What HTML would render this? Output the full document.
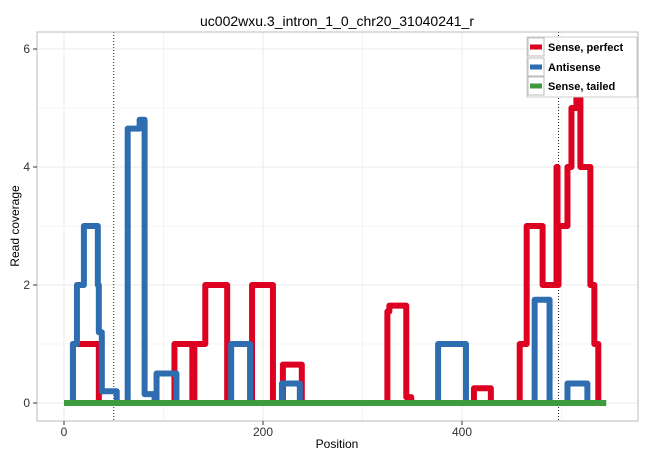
<!DOCTYPE html>
<html><head><meta charset="utf-8">
<style>
body{margin:0;background:#fff;font-family:"Liberation Sans",sans-serif;}
svg{display:block}
</style></head>
<body>
<svg id="chart" width="650" height="460">
<rect x="0" y="0" width="650" height="460" fill="#fff"/>
<g id="grid"></g>
<g id="marks"></g>
<rect x="37" y="32" width="601" height="389" fill="none" stroke="#bbb" stroke-width="1"/>
<g id="axes"></g>
<text x="337" y="26" text-anchor="middle" font-size="14" fill="#000">uc002wxu.3_intron_1_0_chr20_31040241_r</text>
<text x="337" y="448" text-anchor="middle" font-size="12" fill="#000">Position</text>
<text x="19" y="226" text-anchor="middle" font-size="12" fill="#000" transform="rotate(-90 19 226)">Read coverage</text>
<g>
<rect x="527" y="37" width="110" height="60" fill="#fff" stroke="#ccc" stroke-width="1"/>
<g><rect x="528" y="38" width="16" height="18" fill="#fff" stroke="#bbb"/><line x1="530" y1="47" x2="542" y2="47" stroke="#de0020" stroke-width="5"/><text x="548" y="51" font-size="11" font-weight="bold">Sense, perfect</text></g>
<g><rect x="528" y="58" width="16" height="18" fill="#fff" stroke="#bbb"/><line x1="530" y1="67" x2="542" y2="67" stroke="#2e6db0" stroke-width="5"/><text x="548" y="71" font-size="11" font-weight="bold">Antisense</text></g>
<g><rect x="528" y="77" width="16" height="18" fill="#fff" stroke="#bbb"/><line x1="530" y1="86" x2="542" y2="86" stroke="#3d9a3d" stroke-width="5"/><text x="548" y="90" font-size="11" font-weight="bold">Sense, tailed</text></g>
</g>
</svg>
<script>
const xTicks=[0,200,400];
const xMinor=[100,300,500];
const yTicks=[0,2,4,6];
const yMinor=[1,3,5];
const markerPositions=[50,497];
const senseX=[9,9,35,35,111,111,129,129,131,131,142,142,164,164,189,189,210,210,220,220,239,239,325,325,327,327,330,330,344,344,347,347,349,349,412,412,429,429,458,458,465,465,481,481,495,495,496,496,497,497,506,506,510,510,515,515,519,519,529,529,533,533,537,537,539];
const senseY=[0,1,1,0,0,1,1,0,0,1,1,2,2,0,0,2,2,0,0,0.65,0.65,0,0,1.55,1.55,1.65,1.65,1.65,1.65,0.1,0.1,0.1,0.1,0,0,0.25,0.25,0,0,1,1,3,3,2,2,4,4,2,2,3,3,4,4,5,5,5.3,5.3,4,4,2,2,1,1,0,0];
const antiX=[9,9,13,13,20,20,34,34,35,35,38,38,41,41,53,53,54,64,64,76,76,77,81,81,83,83,91,91,93,93,113,113,168,168,187,187,219,219,237,237,376,376,404,404,473,473,488,488,506,506,526,526];
const antiY=[0,1,1,2,2,3,3,2,2,1.2,1.2,0.2,0.2,0.2,0.2,0,0,0,4.65,4.65,4.8,4.8,4.8,0.15,0.15,0.15,0.15,0,0,0.5,0.5,0,0,1,1,0,0,0.33,0.33,0,0,1,1,0,0,1.75,1.75,0,0,0.33,0.33,0];
const tailedX=[0,545];
const tailedY=[0,0];

const NS="http://www.w3.org/2000/svg";
const X0=37,X1=638,Y0=32,Y1=421;
function sx(v){return 64+v*0.995;}
function sy(v){return 403-v*59;}
function mk(tag,attrs,parent){const e=document.createElementNS(NS,tag);for(const k in attrs)e.setAttribute(k,attrs[k]);parent.appendChild(e);return e;}
const grid=document.getElementById('grid'),marks=document.getElementById('marks'),axes=document.getElementById('axes');
xMinor.concat(xTicks).forEach(v=>{const l=mk('line',{x1:sx(v),x2:sx(v),y1:Y0,y2:Y1,stroke:xTicks.includes(v)?'#ebebeb':'#f4f4f4','stroke-width':1},grid);

});
yMinor.concat(yTicks).forEach(v=>{const l=mk('line',{x1:X0,x2:X1,y1:sy(v),y2:sy(v),stroke:yTicks.includes(v)?'#ebebeb':'#f4f4f4','stroke-width':1},grid);

});
xTicks.forEach(v=>{const t=mk('line',{x1:sx(v),x2:sx(v),y1:Y1,y2:Y1+4,stroke:'#333'},axes);


const tx=mk('text',{x:sx(v),y:Y1+15,'text-anchor':'middle','font-size':12,fill:'#333'},axes);tx.textContent=v;

});
yTicks.forEach(v=>{const t=mk('line',{x1:X0-4,x2:X0,y1:sy(v),y2:sy(v),stroke:'#333'},axes);


const tx=mk('text',{x:X0-7,y:sy(v)+4,'text-anchor':'end','font-size':12,fill:'#333'},axes);tx.textContent=v;

});
markerPositions.forEach(v=>{const l=mk('line',{x1:sx(v),x2:sx(v),y1:Y0,y2:Y1,stroke:'#222','stroke-width':1,'stroke-dasharray':'1,2'},marks);

});
function series(xs,ys,color,name){const pts=xs.map((x,i)=>sx(x)+','+sy(ys[i])).join(' ');
const p=mk('polyline',{points:pts,fill:'none',stroke:color,'stroke-width':6,'stroke-linejoin':'round','stroke-linecap':'butt'},marks);

}
series(senseX,senseY,'#de0020','sense-perfect-line');
series(antiX,antiY,'#2e6db0','antisense-line');
series(tailedX,tailedY,'#3d9a3d','sense-tailed-line');
</script>
</body></html>
